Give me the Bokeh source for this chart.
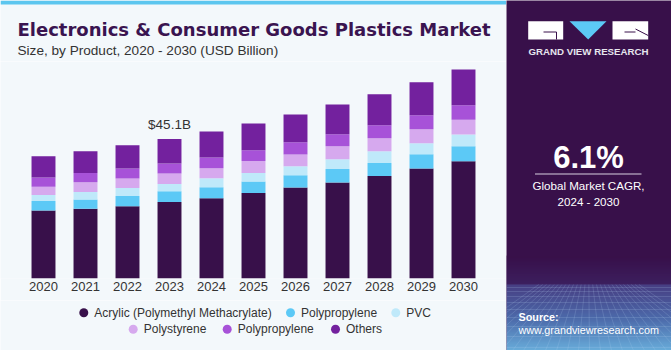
from bokeh.plotting import figure
from bokeh.layouts import row, column
from bokeh.models import Range1d, FactorRange, ColumnDataSource
from bokeh.core.properties import value
from bokeh.embed import file_html
from bokeh.resources import INLINE

# ---------------- data (USD Billion) ----------------
years = ["2020", "2021", "2022", "2023", "2024", "2025", "2026", "2027", "2028", "2029", "2030"]
series_keys = ["acrylic", "pp", "pvc", "ps", "pp2", "others"]
series_names = ["Acrylic (Polymethyl Methacrylate)", "Polypropylene", "PVC",
                "Polystyrene", "Polypropylene", "Others"]
acrylic = [22.0, 22.5, 23.35, 24.74, 25.94, 27.65, 29.4, 31.0, 33.14, 35.53, 37.9]
pp = [3.0, 3.0, 3.33, 3.46, 3.55, 3.68, 3.97, 4.39, 4.2, 4.62, 4.85]
pvc = [1.94, 2.46, 2.58, 2.36, 2.91, 2.78, 2.91, 3.13, 3.78, 3.55, 3.78]
ps = [2.68, 3.13, 3.04, 3.36, 3.23, 3.88, 3.78, 4.2, 4.2, 4.52, 4.72]
pp2 = [3.0, 3.0, 3.23, 3.23, 3.46, 3.46, 3.97, 3.88, 4.2, 4.52, 4.75]
others = [6.88, 7.0, 7.53, 7.95, 8.4, 8.62, 8.95, 9.59, 10.01, 10.66, 11.53]
label_year = "2023"
cagr_text = "6.1%"

colors = ["#38104a", "#5cc9f6", "#bfe9fa", "#d6a9ee", "#a752d8", "#73219e"]
BG = "#f3f8fb"
FONT = "Liberation Sans"
PANEL = "#38104a"


def blank(w, h, x0, x1, y0, y1, bg):
    f = figure(width=w, height=h, x_range=Range1d(x0, x1), y_range=Range1d(y0, y1),
               x_axis_type=None, y_axis_type=None, toolbar_location=None,
               output_backend="svg", min_border=0)
    f.outline_line_color = None
    f.background_fill_color = bg
    f.border_fill_color = bg
    f.grid.visible = False
    return f

# ---------------- header ----------------
head = blank(506, 61, 0, 506, 61, 0, BG)
head.quad(left=[0], right=[506], top=[0], bottom=[4], fill_color="#5cc6ef", line_color=None)
head.text(x=[17], y=[28.5], text=["Electronics & Consumer Goods Plastics Market"],
          text_font=value("DejaVu Sans"), text_font_style="bold", text_font_size="18px",
          text_color="#3a1450", text_baseline="middle", text_align="left")
head.text(x=[17], y=[49.5], text=["Size, by Product, 2020 - 2030 (USD Billion)"],
          text_font=value(FONT), text_font_size="13.6px",
          text_color="#333333", text_baseline="middle", text_align="left")

# ---------------- chart ----------------
data = dict(year=years, acrylic=acrylic, pp=pp, pvc=pvc, ps=ps, pp2=pp2, others=others)
src = ColumnDataSource(data)
chart = figure(width=506, height=239,
               x_range=FactorRange(*years, range_padding=22 / 42, range_padding_units="absolute"),
               y_range=Range1d(0, 70.1), y_axis_type=None, toolbar_location=None,
               output_backend="svg",
               min_border_left=0, min_border_right=0, min_border_top=0, min_border_bottom=22)
chart.vbar_stack(series_keys, x="year", width=0.57, color=colors, source=src, line_color=None)
chart.grid.visible = False
chart.outline_line_color = None
chart.background_fill_color = BG
chart.border_fill_color = BG
ax = chart.xaxis[0]
ax.axis_line_color = None
ax.major_tick_line_color = None
ax.minor_tick_line_color = None
ax.major_tick_out = 0
ax.major_tick_in = 0
ax.major_label_standoff = 3
ax.major_label_text_font = FONT
ax.major_label_text_font_size = "13px"
ax.major_label_text_color = "#333333"

i = years.index(label_year)
total = acrylic[i] + pp[i] + pvc[i] + ps[i] + pp2[i] + others[i]
chart.text(x=[label_year], y=[total], text=[f"${total:.1f}B"], y_offset=-14.5,
           text_font=value(FONT), text_font_size="13.5px", text_color="#333333",
           text_align="center", text_baseline="middle")

# ---------------- legend ----------------
leg = blank(506, 50, 0, 506, 350, 300, BG)
leg_circle_x = [83.3, 290, 395.3, 132.7, 226.7, 335]
leg_rows_y = [312.3, 312.3, 312.3, 328.7, 328.7, 328.7]
leg.scatter(x=leg_circle_x, y=leg_rows_y, size=9, color=colors, line_color=None)
leg.text(x=[v + 10.5 for v in leg_circle_x], y=leg_rows_y, text=series_names,
         text_font=value(FONT), text_font_size="12px", text_color="#333333",
         text_baseline="middle", text_align="left")

# ---------------- right panel ----------------
pan = blank(165, 350, 0, 165, 350, 0, PANEL)
stops = [(255, (56, 16, 74)), (283, (62, 34, 98)), (284, (74, 70, 140)),
         (318, (80, 120, 185)), (350, (112, 196, 240))]
for k in range(len(stops) - 1):
    ya, ca = stops[k]
    yb, cb = stops[k + 1]
    n = max(1, yb - ya)
    for s in range(n):
        t = s / n
        c = tuple(int(ca[j] + (cb[j] - ca[j]) * t) for j in range(3))
        pan.quad(left=[0], right=[165], top=[ya + s], bottom=[ya + s + 1.2],
                 fill_color="#%02x%02x%02x" % c, line_color=None)
for gx in range(-60, 230, 11):
    pan.line(x=[82 + (gx - 82) * 0.35, gx], y=[284, 350], line_color="#b8d6f2",
             line_alpha=0.25, line_width=0.7)
for gy in [287, 291, 296, 302, 309, 317, 326, 336, 347]:
    pan.line(x=[0, 165], y=[gy, gy], line_color="#b8d6f2", line_alpha=0.25, line_width=0.7)

# logo
pan.quad(left=[21.7, 106], right=[56.7, 141.7], top=[20.7, 20.7], bottom=[39, 39],
         fill_color="white", line_color=None)
pan.patch(x=[63, 100, 81.7], y=[20.7, 20.7, 39], fill_color="#5cc9f6", line_color=None)
pan.line(x=[37, 50, 50], y=[31.5, 31.5, 39], line_color=PANEL, line_width=1)
pan.line(x=[129, 141.7], y=[28.5, 35], line_color=PANEL, line_width=1)
pan.line(x=[118, 129], y=[31.5, 31.5], line_color=PANEL, line_width=1)
pan.text(x=[82], y=[51], text=["GRAND VIEW RESEARCH"], text_font=value(FONT),
         text_font_style="bold", text_font_size="9.7px", text_color="#e6e6ee",
         text_align="center", text_baseline="middle")
pan.text(x=[82], y=[157], text=[cagr_text], text_font=value(FONT), text_font_style="bold",
         text_font_size="31px", text_color="white", text_align="center", text_baseline="middle")
pan.line(x=[28.5, 135], y=[173.5, 173.5], line_color="#d8d0e0", line_width=1)
pan.text(x=[82, 82], y=[185, 201], text=["Global Market CAGR,", "2024 - 2030"],
         text_font=value(FONT), text_font_size="11.6px", text_color="white",
         text_align="center", text_baseline="middle")
pan.text(x=[12], y=[316], text=["Source:"], text_font=value(FONT), text_font_style="bold",
         text_font_size="10.8px", text_color="white", text_align="left", text_baseline="middle")
pan.text(x=[12], y=[329.5], text=["www.grandviewresearch.com"], text_font=value(FONT),
         text_font_size="10.8px", text_color="white", text_align="left", text_baseline="middle")

layout = row(column(head, chart, leg, spacing=0), pan, spacing=0)
open("out.html", "w").write(file_html(layout, INLINE))
